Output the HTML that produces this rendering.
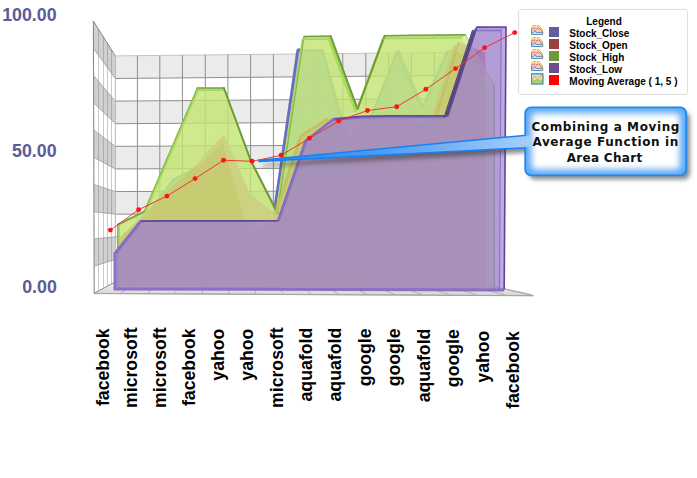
<!DOCTYPE html><html><head><meta charset="utf-8"><title>Area Chart</title><style>html,body{margin:0;padding:0;background:#fff;width:697px;height:478px;overflow:hidden;position:relative}</style></head><body><svg width="697" height="478" viewBox="0 0 697 478" style="position:absolute;left:0;top:0">
<defs>
<linearGradient id="floorg" x1="0" y1="0" x2="0" y2="1"><stop offset="0" stop-color="#f2f2f2"/><stop offset="1" stop-color="#d6d6d6"/></linearGradient>
<linearGradient id="ptrg" gradientUnits="userSpaceOnUse" x1="259" y1="0" x2="527" y2="0"><stop offset="0" stop-color="#2284f0"/><stop offset="0.45" stop-color="#4c9cf2"/><stop offset="1" stop-color="#a4cef8"/></linearGradient>
<radialGradient id="boxg" cx="0.5" cy="0.5" r="0.72"><stop offset="0.5" stop-color="#ffffff"/><stop offset="1" stop-color="#86c0f6"/></radialGradient>
<filter id="blur2" x="-20%" y="-30%" width="140%" height="180%"><feGaussianBlur stdDeviation="2"/></filter>
</defs>
<polygon points="94.2,293.4 94.12,266.17 115.3,259.39 115.3,282" fill="#ffffff"/>
<polygon points="94.12,266.17 94.04,238.94 115.3,236.78 115.3,259.39" fill="#d0d0d0"/>
<polygon points="94.04,238.94 93.96,211.71 115.3,214.17 115.3,236.78" fill="#ffffff"/>
<polygon points="93.96,211.71 93.88,184.48 115.3,191.56 115.3,214.17" fill="#d0d0d0"/>
<polygon points="93.88,184.48 93.8,157.25 115.3,168.95 115.3,191.56" fill="#ffffff"/>
<polygon points="93.8,157.25 93.72,130.02 115.3,146.34 115.3,168.95" fill="#d0d0d0"/>
<polygon points="93.72,130.02 93.64,102.79 115.3,123.73 115.3,146.34" fill="#ffffff"/>
<polygon points="93.64,102.79 93.56,75.56 115.3,101.12 115.3,123.73" fill="#d0d0d0"/>
<polygon points="93.56,75.56 93.48,48.33 115.3,78.51 115.3,101.12" fill="#ffffff"/>
<polygon points="93.48,48.33 93.4,21.1 115.3,55.9 115.3,78.51" fill="#d0d0d0"/>
<line x1="93.4" y1="21.1" x2="94.2" y2="293.4" stroke="#8a8a8a" stroke-width="1.1"/>
<line x1="98.5" y1="290.8" x2="98.5" y2="264.62" stroke="#cacaca" stroke-width="1"/>
<line x1="98.5" y1="264.62" x2="98.5" y2="238.43" stroke="#acacac" stroke-width="1"/>
<line x1="98.5" y1="238.43" x2="98.5" y2="212.25" stroke="#cacaca" stroke-width="1"/>
<line x1="98.5" y1="212.25" x2="98.5" y2="186.07" stroke="#acacac" stroke-width="1"/>
<line x1="98.5" y1="186.07" x2="98.5" y2="159.89" stroke="#cacaca" stroke-width="1"/>
<line x1="98.5" y1="159.89" x2="98.5" y2="133.7" stroke="#acacac" stroke-width="1"/>
<line x1="98.5" y1="133.7" x2="98.5" y2="107.52" stroke="#cacaca" stroke-width="1"/>
<line x1="98.5" y1="107.52" x2="98.5" y2="81.34" stroke="#acacac" stroke-width="1"/>
<line x1="98.5" y1="81.34" x2="98.5" y2="55.16" stroke="#cacaca" stroke-width="1"/>
<line x1="98.5" y1="55.16" x2="98.5" y2="28.97" stroke="#acacac" stroke-width="1"/>
<line x1="103.5" y1="288.39" x2="103.5" y2="263.18" stroke="#cacaca" stroke-width="1"/>
<line x1="103.5" y1="263.18" x2="103.5" y2="237.97" stroke="#acacac" stroke-width="1"/>
<line x1="103.5" y1="237.97" x2="103.5" y2="212.75" stroke="#cacaca" stroke-width="1"/>
<line x1="103.5" y1="212.75" x2="103.5" y2="187.54" stroke="#acacac" stroke-width="1"/>
<line x1="103.5" y1="187.54" x2="103.5" y2="162.33" stroke="#cacaca" stroke-width="1"/>
<line x1="103.5" y1="162.33" x2="103.5" y2="137.11" stroke="#acacac" stroke-width="1"/>
<line x1="103.5" y1="137.11" x2="103.5" y2="111.9" stroke="#cacaca" stroke-width="1"/>
<line x1="103.5" y1="111.9" x2="103.5" y2="86.69" stroke="#acacac" stroke-width="1"/>
<line x1="103.5" y1="86.69" x2="103.5" y2="61.48" stroke="#cacaca" stroke-width="1"/>
<line x1="103.5" y1="61.48" x2="103.5" y2="36.26" stroke="#acacac" stroke-width="1"/>
<line x1="107.5" y1="286.16" x2="107.5" y2="261.84" stroke="#cacaca" stroke-width="1"/>
<line x1="107.5" y1="261.84" x2="107.5" y2="237.53" stroke="#acacac" stroke-width="1"/>
<line x1="107.5" y1="237.53" x2="107.5" y2="213.22" stroke="#cacaca" stroke-width="1"/>
<line x1="107.5" y1="213.22" x2="107.5" y2="188.91" stroke="#acacac" stroke-width="1"/>
<line x1="107.5" y1="188.91" x2="107.5" y2="164.59" stroke="#cacaca" stroke-width="1"/>
<line x1="107.5" y1="164.59" x2="107.5" y2="140.28" stroke="#acacac" stroke-width="1"/>
<line x1="107.5" y1="140.28" x2="107.5" y2="115.97" stroke="#cacaca" stroke-width="1"/>
<line x1="107.5" y1="115.97" x2="107.5" y2="91.66" stroke="#acacac" stroke-width="1"/>
<line x1="107.5" y1="91.66" x2="107.5" y2="67.34" stroke="#cacaca" stroke-width="1"/>
<line x1="107.5" y1="67.34" x2="107.5" y2="43.03" stroke="#acacac" stroke-width="1"/>
<line x1="111.5" y1="284.08" x2="111.5" y2="260.6" stroke="#cacaca" stroke-width="1"/>
<line x1="111.5" y1="260.6" x2="111.5" y2="237.13" stroke="#acacac" stroke-width="1"/>
<line x1="111.5" y1="237.13" x2="111.5" y2="213.65" stroke="#cacaca" stroke-width="1"/>
<line x1="111.5" y1="213.65" x2="111.5" y2="190.18" stroke="#acacac" stroke-width="1"/>
<line x1="111.5" y1="190.18" x2="111.5" y2="166.71" stroke="#cacaca" stroke-width="1"/>
<line x1="111.5" y1="166.71" x2="111.5" y2="143.23" stroke="#acacac" stroke-width="1"/>
<line x1="111.5" y1="143.23" x2="111.5" y2="119.76" stroke="#cacaca" stroke-width="1"/>
<line x1="111.5" y1="119.76" x2="111.5" y2="96.28" stroke="#acacac" stroke-width="1"/>
<line x1="111.5" y1="96.28" x2="111.5" y2="72.81" stroke="#cacaca" stroke-width="1"/>
<line x1="111.5" y1="72.81" x2="111.5" y2="49.33" stroke="#acacac" stroke-width="1"/>
<line x1="94.2" y1="293.4" x2="115.3" y2="282" stroke="#7c7c7c" stroke-width="0.9"/>
<line x1="94.12" y1="266.17" x2="115.3" y2="259.39" stroke="#a0a0a0" stroke-width="0.9"/>
<line x1="94.04" y1="238.94" x2="115.3" y2="236.78" stroke="#a0a0a0" stroke-width="0.9"/>
<line x1="93.96" y1="211.71" x2="115.3" y2="214.17" stroke="#a0a0a0" stroke-width="0.9"/>
<line x1="93.88" y1="184.48" x2="115.3" y2="191.56" stroke="#a0a0a0" stroke-width="0.9"/>
<line x1="93.8" y1="157.25" x2="115.3" y2="168.95" stroke="#a0a0a0" stroke-width="0.9"/>
<line x1="93.72" y1="130.02" x2="115.3" y2="146.34" stroke="#a0a0a0" stroke-width="0.9"/>
<line x1="93.64" y1="102.79" x2="115.3" y2="123.73" stroke="#a0a0a0" stroke-width="0.9"/>
<line x1="93.56" y1="75.56" x2="115.3" y2="101.12" stroke="#a0a0a0" stroke-width="0.9"/>
<line x1="93.48" y1="48.33" x2="115.3" y2="78.51" stroke="#a0a0a0" stroke-width="0.9"/>
<line x1="93.4" y1="21.1" x2="115.3" y2="55.9" stroke="#7c7c7c" stroke-width="0.9"/>
<polygon points="115.3,282 115.3,259.39 481,260.15 481,283.27" fill="#ffffff"/>
<polygon points="115.3,259.39 115.3,236.78 481,237.03 481,260.15" fill="#ebebeb"/>
<polygon points="115.3,236.78 115.3,214.17 481,213.91 481,237.03" fill="#ffffff"/>
<polygon points="115.3,214.17 115.3,191.56 481,190.79 481,213.91" fill="#ebebeb"/>
<polygon points="115.3,191.56 115.3,168.95 481,167.67 481,190.79" fill="#ffffff"/>
<polygon points="115.3,168.95 115.3,146.34 481,144.55 481,167.67" fill="#ebebeb"/>
<polygon points="115.3,146.34 115.3,123.73 481,121.43 481,144.55" fill="#ffffff"/>
<polygon points="115.3,123.73 115.3,101.12 481,98.31 481,121.43" fill="#ebebeb"/>
<polygon points="115.3,101.12 115.3,78.51 481,75.19 481,98.31" fill="#ffffff"/>
<polygon points="115.3,78.51 115.3,55.9 481,52.06 481,75.19" fill="#ebebeb"/>
<line x1="115.3" y1="282" x2="481" y2="283.27" stroke="#8e8e8e" stroke-width="1"/>
<line x1="115.3" y1="259.39" x2="481" y2="260.15" stroke="#8e8e8e" stroke-width="1"/>
<line x1="115.3" y1="236.78" x2="481" y2="237.03" stroke="#8e8e8e" stroke-width="1"/>
<line x1="115.3" y1="214.17" x2="481" y2="213.91" stroke="#8e8e8e" stroke-width="1"/>
<line x1="115.3" y1="191.56" x2="481" y2="190.79" stroke="#8e8e8e" stroke-width="1"/>
<line x1="115.3" y1="168.95" x2="481" y2="167.67" stroke="#8e8e8e" stroke-width="1"/>
<line x1="115.3" y1="146.34" x2="481" y2="144.55" stroke="#8e8e8e" stroke-width="1"/>
<line x1="115.3" y1="123.73" x2="481" y2="121.43" stroke="#8e8e8e" stroke-width="1"/>
<line x1="115.3" y1="101.12" x2="481" y2="98.31" stroke="#8e8e8e" stroke-width="1"/>
<line x1="115.3" y1="78.51" x2="481" y2="75.19" stroke="#8e8e8e" stroke-width="1"/>
<line x1="115.3" y1="55.9" x2="481" y2="52.06" stroke="#c4c4c4" stroke-width="1"/>
<line x1="137.4" y1="55.67" x2="137.4" y2="282.08" stroke="#8e8e8e" stroke-width="1"/>
<line x1="159.8" y1="55.43" x2="159.8" y2="282.15" stroke="#8e8e8e" stroke-width="1"/>
<line x1="182.4" y1="55.2" x2="182.4" y2="282.23" stroke="#8e8e8e" stroke-width="1"/>
<line x1="205.3" y1="54.96" x2="205.3" y2="282.31" stroke="#8e8e8e" stroke-width="1"/>
<line x1="227.9" y1="54.72" x2="227.9" y2="282.39" stroke="#8e8e8e" stroke-width="1"/>
<line x1="250.6" y1="54.48" x2="250.6" y2="282.47" stroke="#8e8e8e" stroke-width="1"/>
<line x1="273.4" y1="54.24" x2="273.4" y2="282.55" stroke="#8e8e8e" stroke-width="1"/>
<line x1="296.3" y1="54" x2="296.3" y2="282.63" stroke="#8e8e8e" stroke-width="1"/>
<line x1="319.5" y1="53.76" x2="319.5" y2="282.71" stroke="#8e8e8e" stroke-width="1"/>
<line x1="342.8" y1="53.51" x2="342.8" y2="282.79" stroke="#8e8e8e" stroke-width="1"/>
<line x1="365.8" y1="53.27" x2="365.8" y2="282.87" stroke="#8e8e8e" stroke-width="1"/>
<line x1="388.6" y1="53.03" x2="388.6" y2="282.95" stroke="#8e8e8e" stroke-width="1"/>
<line x1="411.4" y1="52.79" x2="411.4" y2="283.03" stroke="#8e8e8e" stroke-width="1"/>
<line x1="434.4" y1="52.55" x2="434.4" y2="283.11" stroke="#8e8e8e" stroke-width="1"/>
<line x1="457.5" y1="52.31" x2="457.5" y2="283.19" stroke="#8e8e8e" stroke-width="1"/>
<line x1="480.5" y1="52.07" x2="480.5" y2="283.27" stroke="#8e8e8e" stroke-width="1"/>
<line x1="115.4" y1="55.9" x2="115.4" y2="282" stroke="#b8b8b8" stroke-width="1"/>
<polygon points="94.2,293.4 533.3,295.6 481.5,284 115.3,282" fill="url(#floorg)" stroke="#9a9a9a" stroke-width="0.8"/>
<line x1="115.4" y1="282" x2="93.96" y2="293.24" stroke="#a6a6a6" stroke-width="0.8"/>
<line x1="137.4" y1="282.08" x2="120.36" y2="293.33" stroke="#a6a6a6" stroke-width="0.8"/>
<line x1="159.8" y1="282.15" x2="147.24" y2="293.43" stroke="#a6a6a6" stroke-width="0.8"/>
<line x1="182.4" y1="282.23" x2="174.36" y2="293.52" stroke="#a6a6a6" stroke-width="0.8"/>
<line x1="205.3" y1="282.31" x2="201.84" y2="293.61" stroke="#a6a6a6" stroke-width="0.8"/>
<line x1="227.9" y1="282.39" x2="228.96" y2="293.71" stroke="#a6a6a6" stroke-width="0.8"/>
<line x1="250.6" y1="282.47" x2="256.2" y2="293.8" stroke="#a6a6a6" stroke-width="0.8"/>
<line x1="273.4" y1="282.55" x2="283.56" y2="293.9" stroke="#a6a6a6" stroke-width="0.8"/>
<line x1="296.3" y1="282.63" x2="311.04" y2="293.99" stroke="#a6a6a6" stroke-width="0.8"/>
<line x1="319.5" y1="282.71" x2="338.88" y2="294.09" stroke="#a6a6a6" stroke-width="0.8"/>
<line x1="342.8" y1="282.79" x2="366.84" y2="294.19" stroke="#a6a6a6" stroke-width="0.8"/>
<line x1="365.8" y1="282.87" x2="394.44" y2="294.28" stroke="#a6a6a6" stroke-width="0.8"/>
<line x1="388.6" y1="282.95" x2="421.8" y2="294.38" stroke="#a6a6a6" stroke-width="0.8"/>
<line x1="411.4" y1="283.03" x2="449.16" y2="294.47" stroke="#a6a6a6" stroke-width="0.8"/>
<line x1="434.4" y1="283.11" x2="476.76" y2="294.57" stroke="#a6a6a6" stroke-width="0.8"/>
<line x1="457.5" y1="283.19" x2="504.48" y2="294.66" stroke="#a6a6a6" stroke-width="0.8"/>
<line x1="480.5" y1="283.27" x2="532.08" y2="294.76" stroke="#a6a6a6" stroke-width="0.8"/>
<line x1="94.2" y1="293.6" x2="533.3" y2="295.8" stroke="#a4a4a4" stroke-width="1"/>
<clipPath id="gclip"><polygon points="117.6,287.5 117.6,224.5 144.12,211.5 170.68,149.8 197.28,88 223.92,88 250.6,160 277.32,212.8 304.08,36.4 330.88,36 357.72,108.7 384.6,35.7 411.52,35.3 438.48,35 465.48,34.8 494.3,85.2 494.3,289"/></clipPath>
<clipPath id="gout"><path clip-rule="evenodd" d="M0,0 H697 V478 H0 Z M117.6,287.5 117.6,224.5 144.12,211.5 170.68,149.8 197.28,88 223.92,88 250.6,160 277.32,212.8 304.08,36.4 330.88,36 357.72,108.7 384.6,35.7 411.52,35.3 438.48,35 465.48,34.8 494.3,85.2 494.3,289 Z"/></clipPath>
<polygon points="124.2,283.01 124.2,234.84 148.79,213.22 173.39,179.99 198.02,167.8 222.66,145.69 247.32,231.89 272.01,225.01 296.71,52.69 321.43,52.69 346.17,140.48 370.93,114.92 395.72,52.79 420.52,109.22 445.34,52.79 470.18,58.89 470.18,284.98" fill="#a3b8e6" fill-opacity="0.85"/>
<polygon points="122.5,284 122.5,235 147.51,213 172.54,179.2 197.59,166.8 222.66,144.3 247.75,232 272.86,225 297.99,49.7 323.14,49.7 348.31,139 373.5,113 398.71,49.8 423.94,107.2 449.19,49.8 474.46,56 474.46,286" fill="#a3b8e6" fill-opacity="0.85" stroke="#8aa0d8" stroke-width="0.8" stroke-linejoin="round"/>
<polyline points="123.5,234.91 148.26,213.13 173.04,179.67 197.84,167.39 222.66,145.12 247.5,231.94 272.36,225.01 297.24,51.46 322.13,51.46 347.05,139.87 371.99,114.13 396.95,51.56 421.93,108.39 446.92,51.56 471.94,57.7" fill="none" stroke="#7f92c6" stroke-width="2.2" stroke-linejoin="round" opacity="0.7"/>
<g clip-path="url(#gout)"><polyline points="272.36,225.01 297.99,49.7 323.14,49.7" fill="none" stroke="#6c6cbc" stroke-width="2.6" stroke-linejoin="round"/></g>
<polygon points="122.14,284.49 122.14,237.79 147.42,212.23 172.74,188.15 198.1,165.05 223.5,136.64 248.94,194.05 273.24,214.2 298.78,136.35 325.5,119.64 351.1,120.32 376.73,120.32 402.41,120.32 428.13,128.68 453.88,45.32 480.54,55.54 480.54,286.45" fill="#dc6b7c"/>
<polygon points="120.4,285.5 120.4,238 146.12,212 171.88,187.5 197.68,164 223.52,135.1 249.4,193.5 274.12,214 300.1,134.8 327.28,117.8 353.32,118.5 379.4,118.5 405.52,118.5 431.68,127 457.88,42.2 485,52.6 485,287.5" fill="#dc6b7c" stroke="#d07884" stroke-width="0.8"/>
<clipPath id="oclip"><polygon points="120.4,285.5 120.4,238 146.12,212 171.88,187.5 197.68,164 223.52,135.1 249.4,193.5 274.12,214 300.1,134.8 327.28,117.8 353.32,118.5 379.4,118.5 405.52,118.5 431.68,127 457.88,42.2 485,52.6 485,287.5"/></clipPath>
<polygon points="119.38,286.45 119.38,224.52 145.45,211.74 171.56,151.09 197.71,90.34 223.9,90.34 250.12,161.12 276.39,213.02 302.69,39.62 329.04,39.23 355.42,110.69 381.85,38.93 408.31,38.54 434.81,38.24 461.35,38.05 489.68,87.59 489.68,287.93" fill="#c2e56f" fill-opacity="0.5"/>
<polygon points="117.6,287.5 117.6,224.5 144.12,211.5 170.68,149.8 197.28,88 223.92,88 250.6,160 277.32,212.8 304.08,36.4 330.88,36 357.72,108.7 384.6,35.7 411.52,35.3 438.48,35 465.48,34.8 494.3,85.2 494.3,289" fill="#c2e56f" fill-opacity="0.6"/>
<polygon points="117.6,224.5 144.12,211.5 145.45,211.74 119.38,224.52" fill="#a6d85c" fill-opacity="0.95"/>
<polygon points="144.12,211.5 170.68,149.8 171.56,151.09 145.45,211.74" fill="#a6d85c" fill-opacity="0.95"/>
<polygon points="170.68,149.8 197.28,88 197.71,90.34 171.56,151.09" fill="#a6d85c" fill-opacity="0.95"/>
<polygon points="197.28,88 223.92,88 223.9,90.34 197.71,90.34" fill="#b2de72" fill-opacity="0.95"/>
<polygon points="223.92,88 250.6,160 250.12,161.12 223.9,90.34" fill="#7ea848" fill-opacity="0.95"/>
<polygon points="250.6,160 277.32,212.8 276.39,213.02 250.12,161.12" fill="#7ea848" fill-opacity="0.95"/>
<polygon points="277.32,212.8 304.08,36.4 302.69,39.62 276.39,213.02" fill="#a6d85c" fill-opacity="0.95"/>
<polygon points="304.08,36.4 330.88,36 329.04,39.23 302.69,39.62" fill="#b2de72" fill-opacity="0.95"/>
<polygon points="330.88,36 357.72,108.7 355.42,110.69 329.04,39.23" fill="#7ea848" fill-opacity="0.95"/>
<polygon points="357.72,108.7 384.6,35.7 381.85,38.93 355.42,110.69" fill="#a6d85c" fill-opacity="0.95"/>
<polygon points="384.6,35.7 411.52,35.3 408.31,38.54 381.85,38.93" fill="#b2de72" fill-opacity="0.95"/>
<polygon points="411.52,35.3 438.48,35 434.81,38.24 408.31,38.54" fill="#b2de72" fill-opacity="0.95"/>
<polygon points="438.48,35 465.48,34.8 461.35,38.05 434.81,38.24" fill="#b2de72" fill-opacity="0.95"/>
<line x1="118.6" y1="287.5" x2="118.6" y2="225.5" stroke="#a2cc5e" stroke-width="2.2" stroke-linecap="round"/>
<polyline points="494.3,289 117.6,287.5 117.6,224.5" fill="none" stroke="#86b44a" stroke-width="1.0"/>
<line x1="119.38" y1="224.52" x2="145.45" y2="211.74" stroke="#a4d060" stroke-width="1.6" stroke-linecap="round"/>
<line x1="117.6" y1="224.5" x2="144.12" y2="211.5" stroke="#7c9e42" stroke-width="1.4" stroke-linecap="round"/>
<line x1="145.45" y1="211.74" x2="171.56" y2="151.09" stroke="#a8da5c" stroke-width="2.2" stroke-linecap="round"/>
<line x1="144.12" y1="211.5" x2="170.68" y2="149.8" stroke="#86b44a" stroke-width="1.1" stroke-linecap="round"/>
<line x1="171.56" y1="151.09" x2="197.71" y2="90.34" stroke="#a8da5c" stroke-width="2.2" stroke-linecap="round"/>
<line x1="170.68" y1="149.8" x2="197.28" y2="88" stroke="#86b44a" stroke-width="1.1" stroke-linecap="round"/>
<line x1="197.71" y1="90.34" x2="223.9" y2="90.34" stroke="#a2cf66" stroke-width="1.0" stroke-linecap="round"/>
<line x1="197.28" y1="88" x2="223.92" y2="88" stroke="#74a03e" stroke-width="1.5" stroke-linecap="round"/>
<line x1="223.92" y1="88" x2="250.6" y2="160" stroke="#6e9a38" stroke-width="2.0" stroke-linecap="round"/>
<line x1="250.6" y1="160" x2="277.32" y2="212.8" stroke="#6e9a38" stroke-width="2.0" stroke-linecap="round"/>
<line x1="276.39" y1="213.02" x2="302.69" y2="39.62" stroke="#a8da5c" stroke-width="2.2" stroke-linecap="round"/>
<line x1="277.32" y1="212.8" x2="304.08" y2="36.4" stroke="#86b44a" stroke-width="1.1" stroke-linecap="round"/>
<line x1="302.69" y1="39.62" x2="329.04" y2="39.23" stroke="#a2cf66" stroke-width="1.0" stroke-linecap="round"/>
<line x1="304.08" y1="36.4" x2="330.88" y2="36" stroke="#74a03e" stroke-width="1.5" stroke-linecap="round"/>
<line x1="329.04" y1="39.23" x2="355.42" y2="110.69" stroke="#a8da5c" stroke-width="2.6" stroke-linecap="round"/>
<line x1="330.88" y1="36" x2="357.72" y2="108.7" stroke="#6e9a38" stroke-width="1.5" stroke-linecap="round"/>
<line x1="357.72" y1="108.7" x2="384.6" y2="35.7" stroke="#6e9a38" stroke-width="2.0" stroke-linecap="round"/>
<line x1="381.85" y1="38.93" x2="408.31" y2="38.54" stroke="#a2cf66" stroke-width="1.0" stroke-linecap="round"/>
<line x1="384.6" y1="35.7" x2="411.52" y2="35.3" stroke="#74a03e" stroke-width="1.5" stroke-linecap="round"/>
<line x1="408.31" y1="38.54" x2="434.81" y2="38.24" stroke="#a2cf66" stroke-width="1.0" stroke-linecap="round"/>
<line x1="411.52" y1="35.3" x2="438.48" y2="35" stroke="#74a03e" stroke-width="1.5" stroke-linecap="round"/>
<line x1="434.81" y1="38.24" x2="461.35" y2="38.05" stroke="#a2cf66" stroke-width="1.0" stroke-linecap="round"/>
<line x1="438.48" y1="35" x2="465.48" y2="34.8" stroke="#74a03e" stroke-width="1.5" stroke-linecap="round"/>
<line x1="465.48" y1="34.8" x2="494.3" y2="85.2" stroke="#a8c890" stroke-width="1.0" stroke-linecap="round"/>
<line x1="494.3" y1="85.2" x2="494.3" y2="289" stroke="#76a040" stroke-width="1.3" stroke-linecap="round"/>
<g clip-path="url(#oclip)"><polyline points="274.12,214 300.1,134.8 327.28,117.8" fill="none" stroke="#c0c062" stroke-width="5" stroke-linejoin="round" opacity="0.9"/><polyline points="431.68,127 457.88,42.2" fill="none" stroke="#bcbc60" stroke-width="4" stroke-linejoin="round" opacity="0.8"/></g>
<g clip-path="url(#oclip)"><polygon points="122.5,0 122.5,235 147.51,213 172.54,179.2 197.59,166.8 222.66,144.3 247.75,232 272.86,225 297.99,49.7 323.14,49.7 348.31,139 373.5,113 398.71,49.8 423.94,107.2 449.19,49.8 474.46,56 474.46,0" fill="#ffffff" fill-opacity="0.12"/><polyline points="172.54,179.2 197.59,166.8 222.66,144.3 247.75,232 272.86,225" fill="none" stroke="#c8c878" stroke-width="1" stroke-linejoin="round" opacity="0.6"/></g>
<polygon points="116.24,287.83 116.24,253.32 141.75,221.28 168.4,220.98 195.22,220.98 222.21,220.98 249.35,220.98 277.65,220.79 304.93,141.66 331.79,120.62 359.6,118.16 387.57,117.77 415.7,117.67 444,117.67 472.47,30.58 501.18,30.38 499.41,289.01" fill="#9f80cc" fill-opacity="0.5"/>
<polygon points="114.4,288.9 114.4,253.8 140.35,221.2 167.46,220.9 194.75,220.9 222.2,220.9 249.82,220.9 278.6,220.7 306.36,140.2 333.68,118.8 361.96,116.3 390.42,115.9 419.04,115.8 447.83,115.8 476.79,27.2 506,27 504.2,290.1" fill="#9f80cc" fill-opacity="0.55"/>
<polygon points="114.4,253.8 140.35,221.2 141.75,221.28 116.24,253.32" fill="#7c6ac6" fill-opacity="0.9"/>
<polygon points="140.35,221.2 167.46,220.9 168.4,220.98 141.75,221.28" fill="#9a84d0" fill-opacity="0.9"/>
<polygon points="167.46,220.9 194.75,220.9 195.22,220.98 168.4,220.98" fill="#9a84d0" fill-opacity="0.9"/>
<polygon points="194.75,220.9 222.2,220.9 222.21,220.98 195.22,220.98" fill="#9a84d0" fill-opacity="0.9"/>
<polygon points="222.2,220.9 249.82,220.9 249.35,220.98 222.21,220.98" fill="#9a84d0" fill-opacity="0.9"/>
<polygon points="249.82,220.9 278.6,220.7 277.65,220.79 249.35,220.98" fill="#9a84d0" fill-opacity="0.9"/>
<polygon points="278.6,220.7 306.36,140.2 304.93,141.66 277.65,220.79" fill="#7c6ac6" fill-opacity="0.9"/>
<polygon points="306.36,140.2 333.68,118.8 331.79,120.62 304.93,141.66" fill="#7c6ac6" fill-opacity="0.9"/>
<polygon points="333.68,118.8 361.96,116.3 359.6,118.16 331.79,120.62" fill="#9a84d0" fill-opacity="0.9"/>
<polygon points="361.96,116.3 390.42,115.9 387.57,117.77 359.6,118.16" fill="#9a84d0" fill-opacity="0.9"/>
<polygon points="390.42,115.9 419.04,115.8 415.7,117.67 387.57,117.77" fill="#9a84d0" fill-opacity="0.9"/>
<polygon points="419.04,115.8 447.83,115.8 444,117.67 415.7,117.67" fill="#9a84d0" fill-opacity="0.9"/>
<polygon points="447.83,115.8 476.79,27.2 472.47,30.58 444,117.67" fill="#4a3c68" fill-opacity="0.9"/>
<polygon points="476.79,27.2 506,27 501.18,30.38 472.47,30.58" fill="#ad97da" fill-opacity="0.9"/>
<polygon points="506,27 504.2,290.1 499.41,289.01 501.18,30.38" fill="#b8a0e0" fill-opacity="0.6"/>
<polyline points="116.24,253.32 141.75,221.28 168.4,220.98 195.22,220.98 222.21,220.98 249.35,220.98 277.65,220.79 304.93,141.66 331.79,120.62 359.6,118.16 387.57,117.77 415.7,117.67 444,117.67 472.47,30.58 501.18,30.38 499.41,289.01" fill="none" stroke="#8872c0" stroke-width="1.1" stroke-linejoin="round"/>
<line x1="444" y1="117.67" x2="472.47" y2="30.58" stroke="#504868" stroke-width="1.0" stroke-linecap="round"/>
<line x1="116.24" y1="253.32" x2="141.75" y2="221.28" stroke="#8474cc" stroke-width="1.8" stroke-linecap="round"/>
<line x1="277.65" y1="220.79" x2="304.93" y2="141.66" stroke="#8474cc" stroke-width="1.8" stroke-linecap="round"/>
<line x1="304.93" y1="141.66" x2="331.79" y2="120.62" stroke="#8474cc" stroke-width="1.8" stroke-linecap="round"/>
<polyline points="114.4,253.8 140.35,221.2 167.46,220.9 194.75,220.9 222.2,220.9 249.82,220.9 278.6,220.7 306.36,140.2 333.68,118.8 361.96,116.3 390.42,115.9 419.04,115.8 447.83,115.8 476.79,27.2 506,27" fill="none" stroke="#62469a" stroke-width="1.7" stroke-linejoin="round"/>
<polyline points="115,254.8 115,288.9 504.2,290.1" fill="none" stroke="#8c6ec4" stroke-width="3.0" stroke-linejoin="miter"/>
<line x1="506" y1="27" x2="504.2" y2="288.6" stroke="#5e4494" stroke-width="1.6" stroke-linecap="round"/>
<line x1="114.4" y1="253.8" x2="140.35" y2="221.2" stroke="#8a6ec4" stroke-width="2.3" stroke-linecap="round"/>
<line x1="278.6" y1="220.7" x2="306.36" y2="140.2" stroke="#8a6ec4" stroke-width="2.3" stroke-linecap="round"/>
<line x1="306.36" y1="140.2" x2="333.68" y2="118.8" stroke="#8a6ec4" stroke-width="2.3" stroke-linecap="round"/>
<polyline points="110.4,230.1 138.6,209.7 166.9,196.1 195.1,178.6 223.5,160.2 252,161.3 281.1,155.3 309.5,138.3 338.6,121.1 367.5,110.5 396.7,106.7 425.9,89.3 455.5,68.6 484.6,47.7 514.7,32.6" fill="none" stroke="#f02828" stroke-width="0.9"/>
<circle cx="110.4" cy="230.1" r="2.45" fill="#ff1414"/>
<circle cx="138.6" cy="209.7" r="2.45" fill="#ff1414"/>
<circle cx="166.9" cy="196.1" r="2.45" fill="#ff1414"/>
<circle cx="195.1" cy="178.6" r="2.45" fill="#ff1414"/>
<circle cx="223.5" cy="160.2" r="2.45" fill="#ff1414"/>
<circle cx="252" cy="161.3" r="2.45" fill="#ff1414"/>
<circle cx="281.1" cy="155.3" r="2.45" fill="#ff1414"/>
<circle cx="309.5" cy="138.3" r="2.45" fill="#ff1414"/>
<circle cx="338.6" cy="121.1" r="2.45" fill="#ff1414"/>
<circle cx="367.5" cy="110.5" r="2.45" fill="#ff1414"/>
<circle cx="396.7" cy="106.7" r="2.45" fill="#ff1414"/>
<circle cx="425.9" cy="89.3" r="2.45" fill="#ff1414"/>
<circle cx="455.5" cy="68.6" r="2.45" fill="#ff1414"/>
<circle cx="484.6" cy="47.7" r="2.45" fill="#ff1414"/>
<circle cx="514.7" cy="32.6" r="2.45" fill="#ff1414"/>
<text x="56.6" y="20.9" font-family="Liberation Sans, Arial, sans-serif" font-weight="bold" font-size="17.8" fill="#5b5b95" text-anchor="end">100.00</text>
<text x="56.6" y="157.0" font-family="Liberation Sans, Arial, sans-serif" font-weight="bold" font-size="17.8" fill="#5b5b95" text-anchor="end">50.00</text>
<text x="56.8" y="292.7" font-family="Liberation Sans, Arial, sans-serif" font-weight="bold" font-size="17.8" fill="#5b5b95" text-anchor="end">0.00</text>
<text transform="translate(109,328.4) rotate(-90)" font-family="Liberation Sans, Arial, sans-serif" font-weight="bold" font-size="17.7" fill="#000" text-anchor="end">facebook</text>
<text transform="translate(137,327.4) rotate(-90)" font-family="Liberation Sans, Arial, sans-serif" font-weight="bold" font-size="17.7" fill="#000" text-anchor="end">microsoft</text>
<text transform="translate(166.2,327.4) rotate(-90)" font-family="Liberation Sans, Arial, sans-serif" font-weight="bold" font-size="17.7" fill="#000" text-anchor="end">microsoft</text>
<text transform="translate(195.3,328.4) rotate(-90)" font-family="Liberation Sans, Arial, sans-serif" font-weight="bold" font-size="17.7" fill="#000" text-anchor="end">facebook</text>
<text transform="translate(223.7,328.6) rotate(-90)" font-family="Liberation Sans, Arial, sans-serif" font-weight="bold" font-size="17.7" fill="#000" text-anchor="end">yahoo</text>
<text transform="translate(252.6,328.6) rotate(-90)" font-family="Liberation Sans, Arial, sans-serif" font-weight="bold" font-size="17.7" fill="#000" text-anchor="end">yahoo</text>
<text transform="translate(282.7,327.4) rotate(-90)" font-family="Liberation Sans, Arial, sans-serif" font-weight="bold" font-size="17.7" fill="#000" text-anchor="end">microsoft</text>
<text transform="translate(311.6,327.8) rotate(-90)" font-family="Liberation Sans, Arial, sans-serif" font-weight="bold" font-size="17.7" fill="#000" text-anchor="end">aquafold</text>
<text transform="translate(341.2,327.8) rotate(-90)" font-family="Liberation Sans, Arial, sans-serif" font-weight="bold" font-size="17.7" fill="#000" text-anchor="end">aquafold</text>
<text transform="translate(370.8,328.4) rotate(-90)" font-family="Liberation Sans, Arial, sans-serif" font-weight="bold" font-size="17.7" fill="#000" text-anchor="end">google</text>
<text transform="translate(400.4,328.4) rotate(-90)" font-family="Liberation Sans, Arial, sans-serif" font-weight="bold" font-size="17.7" fill="#000" text-anchor="end">google</text>
<text transform="translate(429.9,328.6) rotate(-90)" font-family="Liberation Sans, Arial, sans-serif" font-weight="bold" font-size="17.7" fill="#000" text-anchor="end">aquafold</text>
<text transform="translate(459.4,329.2) rotate(-90)" font-family="Liberation Sans, Arial, sans-serif" font-weight="bold" font-size="17.7" fill="#000" text-anchor="end">google</text>
<text transform="translate(488.6,330.6) rotate(-90)" font-family="Liberation Sans, Arial, sans-serif" font-weight="bold" font-size="17.7" fill="#000" text-anchor="end">yahoo</text>
<text transform="translate(519.4,331.2) rotate(-90)" font-family="Liberation Sans, Arial, sans-serif" font-weight="bold" font-size="17.7" fill="#000" text-anchor="end">facebook</text>
<rect x="518.6" y="9.4" width="168.8" height="85" rx="2" fill="#fff" stroke="#dcdcdc" stroke-width="1"/>
<text x="604" y="24.8" font-family="Liberation Sans, Arial, sans-serif" font-weight="bold" font-size="10" text-anchor="middle" fill="#000">Legend</text>
<g transform="translate(531,24.9)"><path d="M0.5,9.6 V3 L2,0.6 H5 L5.8,1.6 L7,0.6 H8 L11.6,5 V9.6 Z" fill="#fff2c4" stroke="#e2b030" stroke-width="1"/><path d="M0.5,9.6 V5 L2.5,3 H4.5 L5.5,4 L7,3 H8 L11.6,7 V9.6 Z" fill="#f9c4c4" stroke="#e25454" stroke-width="0.9"/><path d="M0.5,9.6 V8 L3,7 L3.8,5.4 L4.6,7 L6,7.6 H11.6 V9.6 Z" fill="#c4e2f8" stroke="#5d8fb8" stroke-width="0.9"/></g>
<rect x="549" y="27" width="10" height="10" fill="#5f5f9d"/>
<text x="569.3" y="36.5" font-family="Liberation Sans, Arial, sans-serif" font-weight="bold" font-size="10" fill="#000">Stock_Close</text>
<g transform="translate(531,36.9)"><path d="M0.5,9.6 V3 L2,0.6 H5 L5.8,1.6 L7,0.6 H8 L11.6,5 V9.6 Z" fill="#fff2c4" stroke="#e2b030" stroke-width="1"/><path d="M0.5,9.6 V5 L2.5,3 H4.5 L5.5,4 L7,3 H8 L11.6,7 V9.6 Z" fill="#f9c4c4" stroke="#e25454" stroke-width="0.9"/><path d="M0.5,9.6 V8 L3,7 L3.8,5.4 L4.6,7 L6,7.6 H11.6 V9.6 Z" fill="#c4e2f8" stroke="#5d8fb8" stroke-width="0.9"/></g>
<rect x="549" y="39" width="10" height="10" fill="#9b3f3f"/>
<text x="569.3" y="48.5" font-family="Liberation Sans, Arial, sans-serif" font-weight="bold" font-size="10" fill="#000">Stock_Open</text>
<g transform="translate(531,48.9)"><path d="M0.5,9.6 V3 L2,0.6 H5 L5.8,1.6 L7,0.6 H8 L11.6,5 V9.6 Z" fill="#fff2c4" stroke="#e2b030" stroke-width="1"/><path d="M0.5,9.6 V5 L2.5,3 H4.5 L5.5,4 L7,3 H8 L11.6,7 V9.6 Z" fill="#f9c4c4" stroke="#e25454" stroke-width="0.9"/><path d="M0.5,9.6 V8 L3,7 L3.8,5.4 L4.6,7 L6,7.6 H11.6 V9.6 Z" fill="#c4e2f8" stroke="#5d8fb8" stroke-width="0.9"/></g>
<rect x="549" y="51" width="10" height="10" fill="#6f993a"/>
<text x="569.3" y="60.5" font-family="Liberation Sans, Arial, sans-serif" font-weight="bold" font-size="10" fill="#000">Stock_High</text>
<g transform="translate(531,60.9)"><path d="M0.5,9.6 V3 L2,0.6 H5 L5.8,1.6 L7,0.6 H8 L11.6,5 V9.6 Z" fill="#fff2c4" stroke="#e2b030" stroke-width="1"/><path d="M0.5,9.6 V5 L2.5,3 H4.5 L5.5,4 L7,3 H8 L11.6,7 V9.6 Z" fill="#f9c4c4" stroke="#e25454" stroke-width="0.9"/><path d="M0.5,9.6 V8 L3,7 L3.8,5.4 L4.6,7 L6,7.6 H11.6 V9.6 Z" fill="#c4e2f8" stroke="#5d8fb8" stroke-width="0.9"/></g>
<rect x="549" y="63" width="10" height="10" fill="#6a4c92"/>
<text x="569.3" y="72.5" font-family="Liberation Sans, Arial, sans-serif" font-weight="bold" font-size="10" fill="#000">Stock_Low</text>
<g transform="translate(531,73.3)"><rect x="0.5" y="0.5" width="11.4" height="10.2" fill="#bcdcf8" stroke="#5a84c0" stroke-width="0.9"/><path d="M0.8,6.6 L3.5,3 L6.5,6.8 L10.5,2.2 L11.6,3.5 V7 H0.8 Z" fill="#fde6a4" stroke="#e0a020" stroke-width="0.9"/><rect x="0.9" y="7" width="10.6" height="3.4" fill="#9cd47c"/><rect x="0.5" y="0.5" width="11.4" height="10.2" fill="none" stroke="#5a8a94" stroke-width="0.9"/></g>
<rect x="549" y="75" width="10" height="10" fill="#ff0000"/>
<text x="569.3" y="84.5" font-family="Liberation Sans, Arial, sans-serif" font-weight="bold" font-size="10" fill="#000">Moving Average ( 1, 5 )</text>
<filter id="blur3" x="-10%" y="-10%" width="120%" height="120%"><feGaussianBlur stdDeviation="3.2"/></filter>
<clipPath id="boxclip"><rect x="525.2" y="107.4" width="161" height="68" rx="6"/></clipPath>
<g filter="url(#blur2)" opacity="0.6"><rect x="529" y="112.5" width="161" height="67" rx="6" fill="#404040"/><polygon points="263,164.8 530,139.8 530,152.5 263,166.4" fill="#404040"/></g>
<polygon points="259,160.3 527,135.2 527,147.7 259,161.6" fill="url(#ptrg)" stroke="#1a80f0" stroke-width="1.5" stroke-linejoin="round"/>
<g clip-path="url(#boxclip)"><rect x="525.2" y="107.4" width="161" height="68" fill="#5eaaf4"/><rect x="531.5" y="113.2" width="148.4" height="56.4" rx="4" fill="#ffffff" filter="url(#blur3)"/></g>
<rect x="525.2" y="107.4" width="161" height="68" rx="6" fill="none" stroke="#2288f0" stroke-width="1.8"/>
<rect x="523.5" y="136.3" width="6" height="10.4" fill="#9ccbf8"/>
<rect x="526.5" y="136.3" width="5" height="10.4" fill="#a8d2fa" filter="url(#blur2)"/>
<text x="605.7" y="130.7" font-family="DejaVu Sans, Verdana, sans-serif" font-weight="bold" font-size="12" letter-spacing="0.6" fill="#111" text-anchor="middle">Combining a Moving</text>
<text x="605.7" y="146.0" font-family="DejaVu Sans, Verdana, sans-serif" font-weight="bold" font-size="12" letter-spacing="0.6" fill="#111" text-anchor="middle">Average Function in</text>
<text x="604.6" y="161.6" font-family="DejaVu Sans, Verdana, sans-serif" font-weight="bold" font-size="12" letter-spacing="0.3" fill="#111" text-anchor="middle">Area Chart</text>
</svg></body></html>
